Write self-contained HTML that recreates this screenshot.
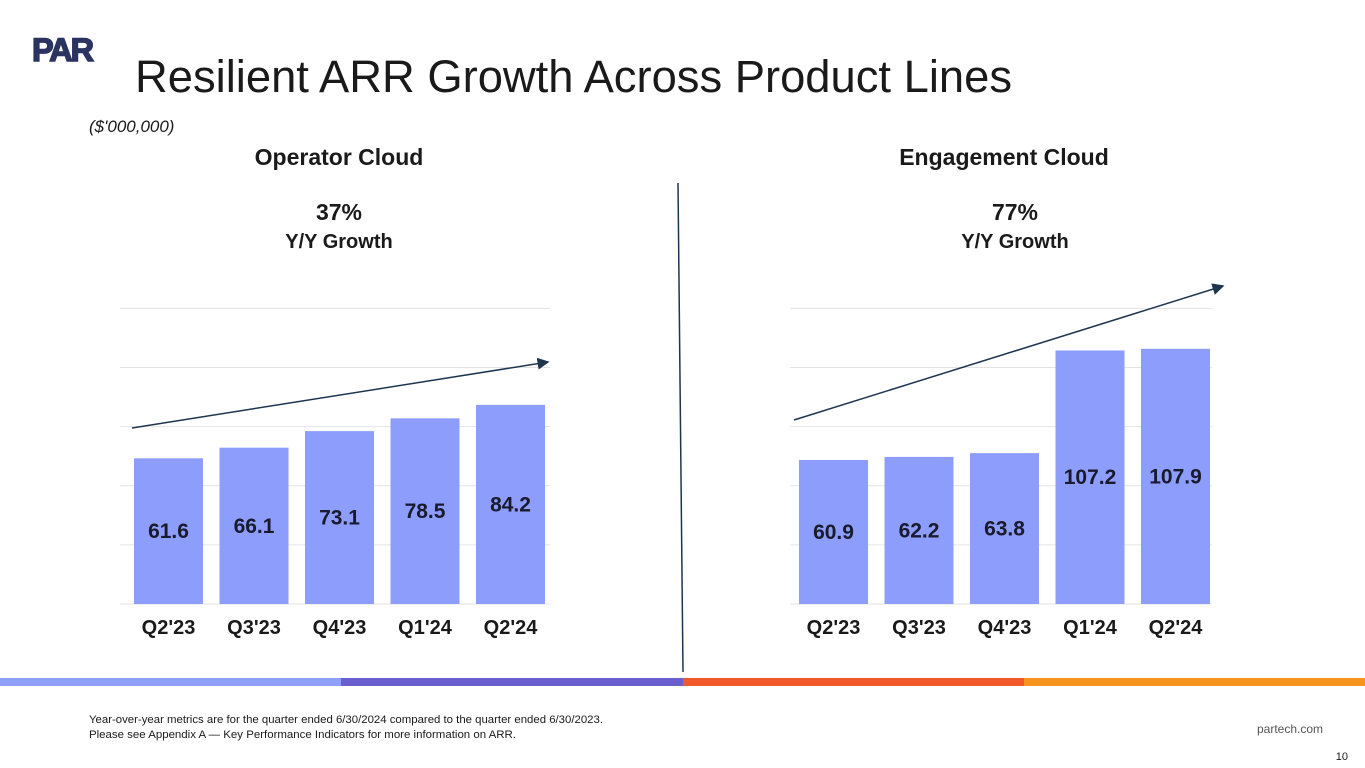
<!DOCTYPE html>
<html><head><meta charset="utf-8"><style>
html,body{margin:0;padding:0;background:#fff;}
body{width:1365px;height:768px;position:relative;overflow:hidden;font-family:"Liberation Sans",Arial,sans-serif;}
svg{position:absolute;left:0;top:0;}
</style></head><body>
<svg id="s" width="1365" height="768" viewBox="0 0 1365 768">
<text x="32" y="61" font-size="32" font-weight="900" fill="#2b3360" letter-spacing="-2" stroke="#2b3360" stroke-width="1.5" textLength="60" lengthAdjust="spacingAndGlyphs">PAR</text>
<text x="135" y="92" font-size="45" fill="#1a1a1a" textLength="877" lengthAdjust="spacingAndGlyphs">Resilient ARR Growth Across Product Lines</text>
<text x="89" y="132" font-size="17" font-style="italic" fill="#1a1a1a">($'000,000)</text>
<text x="339" y="165" font-size="23" font-weight="bold" fill="#1a1a1a" text-anchor="middle">Operator Cloud</text>
<text x="339" y="220" font-size="23" font-weight="bold" fill="#1a1a1a" text-anchor="middle">37%</text>
<text x="339" y="248" font-size="20" font-weight="bold" fill="#1a1a1a" text-anchor="middle">Y/Y Growth</text>
<text x="1004" y="165" font-size="23" font-weight="bold" fill="#1a1a1a" text-anchor="middle">Engagement Cloud</text>
<text x="1015" y="220" font-size="23" font-weight="bold" fill="#1a1a1a" text-anchor="middle">77%</text>
<text x="1015" y="248" font-size="20" font-weight="bold" fill="#1a1a1a" text-anchor="middle">Y/Y Growth</text>
<line x1="678" y1="183" x2="683" y2="672" stroke="#1e3550" stroke-width="1.5"/>
<rect x="0" y="678" width="341" height="8" fill="#8fa0f8"/>
<rect x="341" y="678" width="342" height="8" fill="#6a5fcf"/>
<rect x="683" y="678" width="341" height="8" fill="#f05a28"/>
<rect x="1024" y="678" width="341" height="8" fill="#f7941d"/>
<text x="89" y="723" font-size="11.2" fill="#1a1a1a" textLength="514" lengthAdjust="spacingAndGlyphs">Year-over-year metrics are for the quarter ended 6/30/2024 compared to the quarter ended 6/30/2023.</text>
<text x="89" y="738" font-size="11.2" fill="#1a1a1a" textLength="427" lengthAdjust="spacingAndGlyphs">Please see Appendix A — Key Performance Indicators for more information on ARR.</text>
<text x="1323" y="733" font-size="12" fill="#555" text-anchor="end">partech.com</text>
<text x="1348" y="760" font-size="11" fill="#1a1a1a" text-anchor="end">10</text>
<defs><marker id="ah" markerWidth="8" markerHeight="8" refX="7" refY="4" orient="auto"><path d="M0,0 L8,4 L0,8 z" fill="#1e3550"/></marker></defs>
<g id="g"></g>
</svg>
<script>
const categories = ["Q2'23","Q3'23","Q4'23","Q1'24","Q2'24"];
const operatorValues = [61.6,66.1,73.1,78.5,84.2];
const engagementValues = [60.9,62.2,63.8,107.2,107.9];
const gridTicks = [0,25,50,75,100,125];
const NS="http://www.w3.org/2000/svg";
const g=document.getElementById('g');
function mk(tag,attrs){const e=document.createElementNS(NS,tag);for(const k in attrs)e.setAttribute(k,attrs[k]);g.appendChild(e);return e;}
const base=604, scale=2.365;
function y(v){return base-v*scale;}
function drawChart(name,vals,x0,gx0,gx1,arrow){
  gridTicks.forEach(t=>{
    const l=mk('line',{x1:gx0,x2:gx1,y1:y(t),y2:y(t),stroke:'#e3e3e3','stroke-width':1});
    
    
  });
  vals.forEach((v,i)=>{
    const x=x0+i*85.5;
    const r=mk('rect',{x:x,y:y(v),width:69,height:v*scale,fill:'#8c9dfc'});
    
    
    const t=mk('text',{x:x+34.5,y:(y(v)+base)/2+7,'font-size':21,'font-weight':'bold',fill:'#1a1a2e','text-anchor':'middle'});
    t.textContent=v.toFixed(1);
    
    
    const c=mk('text',{x:x+34.5,y:634,'font-size':20,'font-weight':'bold',fill:'#1a1a1a','text-anchor':'middle'});
    c.textContent=categories[i];
    
    
  });
  const a=mk('line',{x1:arrow[0],y1:arrow[1],x2:arrow[2],y2:arrow[3],stroke:'#1e3550','stroke-width':1.5,'marker-end':'url(#ah)'});
  
  
}
drawChart('operator',operatorValues,134,120,550,[132,428,548,362]);
drawChart('engagement',engagementValues,799,790,1212,[794,420,1223,286]);
</script>
</body></html>
